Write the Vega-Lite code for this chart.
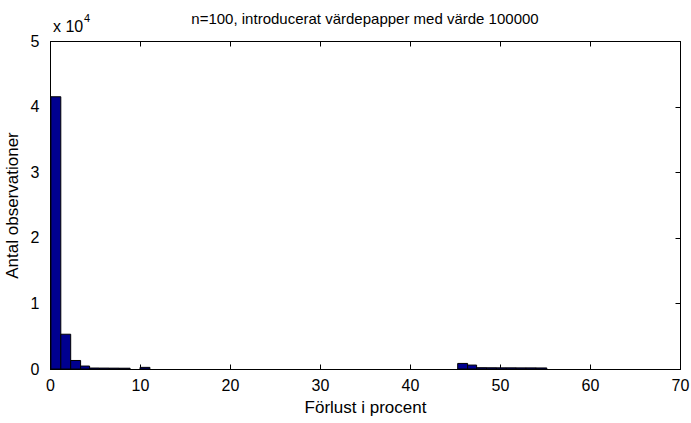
{
  "$schema": "https://vega.github.io/schema/vega-lite/v6.json",
  "width": 630,
  "height": 328,
  "autosize": {"type": "none"},
  "padding": {"left": 50, "top": 41, "right": 11, "bottom": 54},
  "background": "white",
  "config": {
    "font": "Liberation Sans",
    "view": {"stroke": "black", "strokeWidth": 1},
    "axis": {
      "domainColor": "black",
      "tickColor": "black",
      "tickSize": -5,
      "labelColor": "black",
      "labelFont": "Liberation Sans",
      "labelFontSize": 16,
      "titleColor": "black",
      "titleFont": "Liberation Sans",
      "titleFontSize": 17,
      "titleFontWeight": "normal",
      "grid": false
    }
  },
  "title": {
    "text": "n=100, introducerat värdepapper med värde 100000",
    "font": "Liberation Sans",
    "fontSize": 15,
    "fontWeight": "normal",
    "color": "black",
    "offset": -14
  },
  "data": {
    "values": [
      {"lo": 0.1, "hi": 1.2, "count": 41500},
      {"lo": 1.2, "hi": 2.3, "count": 5300},
      {"lo": 2.3, "hi": 3.4, "count": 1300},
      {"lo": 3.4, "hi": 4.4, "count": 450},
      {"lo": 4.4, "hi": 5.5, "count": 150},
      {"lo": 5.5, "hi": 6.6, "count": 140},
      {"lo": 6.6, "hi": 7.7, "count": 130},
      {"lo": 7.7, "hi": 8.9, "count": 120},
      {"lo": 10.0, "hi": 11.1, "count": 250},
      {"lo": 45.3, "hi": 46.4, "count": 850},
      {"lo": 46.4, "hi": 47.4, "count": 600},
      {"lo": 47.4, "hi": 48.5, "count": 200},
      {"lo": 48.5, "hi": 49.6, "count": 190},
      {"lo": 49.6, "hi": 50.7, "count": 180},
      {"lo": 50.7, "hi": 51.8, "count": 180},
      {"lo": 51.8, "hi": 52.9, "count": 170},
      {"lo": 52.9, "hi": 54.0, "count": 170},
      {"lo": 54.0, "hi": 55.2, "count": 160}
    ]
  },
  "resolve": {"axis": {"x": "independent", "y": "independent"}},
  "layer": [
    {
      "mark": {"type": "bar", "color": "#00008f", "stroke": "black", "strokeWidth": 1},
      "encoding": {
        "x": {
          "field": "lo",
          "type": "quantitative",
          "scale": {"domain": [0, 70], "nice": false, "zero": false},
          "axis": {
            "values": [0, 10, 20, 30, 40, 50, 60, 70],
            "title": "Förlust i procent",
            "labelPadding": 13,
            "titlePadding": 6,
            "labelFlush": false
          }
        },
        "x2": {"field": "hi"},
        "y": {
          "field": "count",
          "type": "quantitative",
          "scale": {"domain": [0, 50000], "nice": false},
          "axis": {
            "values": [0, 10000, 20000, 30000, 40000, 50000],
            "labelExpr": "datum.value / 10000",
            "title": "Antal observationer",
            "labelPadding": 16,
            "titlePadding": 9,
            "labelFlush": false,
            "labelBaseline": "middle"
          }
        },
        "y2": {"datum": 0}
      }
    },
    {
      "mark": {"type": "bar", "opacity": 0},
      "encoding": {
        "x": {
          "field": "lo",
          "type": "quantitative",
          "axis": {"orient": "top", "values": [0, 10, 20, 30, 40, 50, 60, 70], "labels": false, "title": null}
        },
        "x2": {"field": "hi"},
        "y": {
          "field": "count",
          "type": "quantitative",
          "axis": {"orient": "right", "values": [0, 10000, 20000, 30000, 40000, 50000], "labels": false, "title": null}
        },
        "y2": {"datum": 0}
      }
    },
    {
      "data": {"values": [{"px": 0, "py": 50000, "label": "x 10"}]},
      "mark": {"type": "text", "align": "left", "baseline": "alphabetic", "dx": 3, "dy": -9, "fontSize": 16, "color": "black"},
      "encoding": {
        "x": {"field": "px", "type": "quantitative", "axis": null},
        "y": {"field": "py", "type": "quantitative", "axis": null},
        "text": {"field": "label"}
      }
    },
    {
      "data": {"values": [{"px": 0, "py": 50000, "sup": "4"}]},
      "mark": {"type": "text", "align": "left", "baseline": "alphabetic", "dx": 34, "dy": -19, "fontSize": 11, "color": "black"},
      "encoding": {
        "x": {"field": "px", "type": "quantitative", "axis": null},
        "y": {"field": "py", "type": "quantitative", "axis": null},
        "text": {"field": "sup"}
      }
    }
  ]
}
